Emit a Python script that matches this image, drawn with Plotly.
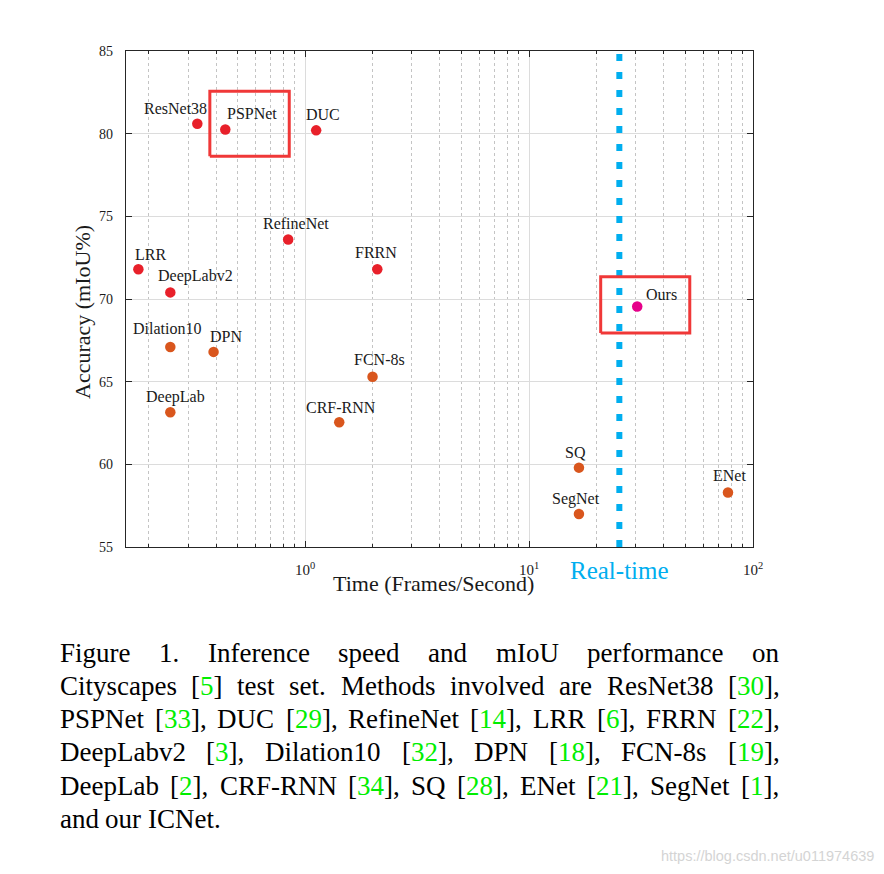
import re
import numpy as np
import plotly.graph_objects as go

# ---------------- data ----------------
methods = ["ResNet38", "PSPNet", "DUC", "RefineNet", "LRR", "FRRN", "DeepLabv2",
           "Dilation10", "DPN", "FCN-8s", "DeepLab", "CRF-RNN", "SQ", "SegNet", "ENet",
           "Ours"]
fps = [0.33, 0.44, 1.12, 0.84, 0.18, 2.1, 0.25,
       0.25, 0.39, 2.0, 0.25, 1.42, 16.7, 16.7, 77.3,
       30.4]
miou = [80.6, 80.25, 80.2, 73.6, 71.8, 71.8, 70.4,
        67.1, 66.8, 65.3, 63.15, 62.55, 59.8, 57.0, 58.3,
        69.55]
groups = ["high"] * 7 + ["mid"] * 8 + ["ours"]
highlighted = ["PSPNet", "Ours"]
realtime_fps = 25.3
x_tick_vals = [1, 10, 100]
x_tick_text = ["10<sup>0</sup>", "10<sup>1</sup>", "10<sup>2</sup>"]
y_tick_vals = [55, 60, 65, 70, 75, 80, 85]

caption_lines = [
    "Figure 1. Inference speed and mIoU performance on",
    "Cityscapes [5] test set. Methods involved are ResNet38 [30],",
    "PSPNet [33], DUC [29], RefineNet [14], LRR [6], FRRN [22],",
    "DeepLabv2 [3], Dilation10 [32], DPN [18], FCN-8s [19],",
    "DeepLab [2], CRF-RNN [34], SQ [28], ENet [21], SegNet [1],",
    "and our ICNet.",
]
watermark = "https://blog.csdn.net/u011974639"

# ---------------- styles ----------------
group_colors = {"high": "#e8202a", "mid": "#d9561d", "ours": "#e6008a"}
label_offsets = {  # (dx, dy) in px
    "ResNet38": (-22, 15), "PSPNet": (27, 16), "DUC": (7, 16), "RefineNet": (8, 16),
    "LRR": (12, 15), "FRRN": (-1, 17), "DeepLabv2": (25, 16), "Dilation10": (-3, 18),
    "DPN": (12, 15), "FCN-8s": (7, 17), "DeepLab": (5, 15), "CRF-RNN": (2, 15),
    "SQ": (-3, 15), "SegNet": (-3, 15), "ENet": (2, 17), "Ours": (24, 12),
}
box_pad = {"PSPNet": (0.853, 1.93, 1.62, 2.31), "Ours": (0.687, 1.717, 1.6, 1.8)}
SERIF = "Liberation Serif, Times New Roman, serif"
TXT = "#1a1a1a"

OFF = 8  # page body margin
W, H = 884 - OFF, 874 - OFF
# plot area in reference-picture pixels
L0, R0, T0, B0 = 126, 753, 51, 547
L, R, T, B = L0 - OFF, R0 - OFF, T0 - OFF, B0 - OFF


def px_x(p):
    return (p - L0) / (R0 - L0)


def px_y(p):
    return (B0 - p) / (B0 - T0)


fig = go.Figure()

# real-time line
fig.add_trace(go.Scatter(
    x=[realtime_fps, realtime_fps], y=[y_tick_vals[0], y_tick_vals[-1]], mode="lines",
    line=dict(color="#00aeef", width=6, dash="7px,11px"), hoverinfo="skip",
    showlegend=False))

# highlight boxes
for name in highlighted:
    i = methods.index(name)
    fx0, fx1, dy0, dy1 = box_pad[name]
    x0, x1 = fps[i] * fx0, fps[i] * fx1
    y0, y1 = miou[i] - dy0, miou[i] + dy1
    fig.add_trace(go.Scatter(
        x=[x0, x1, x1, x0, x0], y=[y0, y0, y1, y1, y0], mode="lines",
        line=dict(color="#f03838", width=3), hoverinfo="skip", showlegend=False))

# points
fig.add_trace(go.Scatter(
    x=fps, y=miou, mode="markers",
    marker=dict(size=10.5, color=[group_colors[g] for g in groups], line=dict(width=0)),
    text=methods, showlegend=False))

annotations = []
for m, f, a in zip(methods, fps, miou):
    dx, dy = label_offsets[m]
    annotations.append(dict(
        x=np.log10(f), y=a, xref="x", yref="y", text=m, showarrow=False,
        xshift=dx, yshift=dy, font=dict(family=SERIF, size=16, color=TXT)))

# real-time label
annotations.append(dict(
    x=np.log10(realtime_fps), y=px_y(570), xref="x", yref="paper", text="Real-time",
    showarrow=False, xanchor="center", yanchor="middle",
    font=dict(family=SERIF, size=25, color="#00aeef")))

# axis titles
annotations.append(dict(
    x=px_x(433.5), y=px_y(583), xref="paper", yref="paper", text="Time (Frames/Second)",
    showarrow=False, xanchor="center", yanchor="middle",
    font=dict(family=SERIF, size=22, color=TXT)))
annotations.append(dict(
    x=px_x(83), y=px_y(312), xref="paper", yref="paper", text="Accuracy (mIoU%)",
    showarrow=False, xanchor="center", yanchor="middle", textangle=-90,
    font=dict(family=SERIF, size=22, color=TXT)))

# caption (justified word by word)
AFM = {' ': 250, '[': 333, ']': 333, ',': 250, '.': 250, '-': 333, '%': 833, '/': 278,
       'A': 722, 'B': 667, 'C': 667, 'D': 722, 'E': 611, 'F': 556, 'G': 722, 'H': 722,
       'I': 333, 'J': 389, 'K': 722, 'L': 611, 'M': 889, 'N': 722, 'O': 722, 'P': 556,
       'Q': 722, 'R': 667, 'S': 556, 'T': 611, 'U': 722, 'V': 722, 'W': 944, 'X': 722,
       'Y': 722, 'Z': 611, 'a': 444, 'b': 500, 'c': 444, 'd': 500, 'e': 444, 'f': 333,
       'g': 500, 'h': 500, 'i': 278, 'j': 278, 'k': 500, 'l': 278, 'm': 778, 'n': 500,
       'o': 500, 'p': 500, 'q': 500, 'r': 333, 's': 389, 't': 278, 'u': 500, 'v': 500,
       'w': 722, 'x': 500, 'y': 500, 'z': 444}
CAP_SIZE = 27
CAP_LEFT, CAP_RIGHT = 58.5, 778.5
CAP_Y0, CAP_DY = 652.5, 33.3


def wlen(s):
    return sum(AFM.get(c, 500) for c in s) / 1000.0 * CAP_SIZE


for li, line in enumerate(caption_lines):
    words = line.split()
    widths = [wlen(w) for w in words]
    if li < len(caption_lines) - 1 and len(words) > 1:
        gap = (CAP_RIGHT - CAP_LEFT - sum(widths)) / (len(words) - 1)
    else:
        gap = wlen(' ')
    xcur = CAP_LEFT
    yc = CAP_Y0 + li * CAP_DY
    for w, wd in zip(words, widths):
        rich = re.sub(r'\[(\d+)\]', r'[<span style="color:#00ee00">\1</span>]', w)
        annotations.append(dict(
            x=px_x(xcur - 1), y=px_y(yc), xref="paper", yref="paper", text=rich,
            showarrow=False, xanchor="left", yanchor="middle",
            font=dict(family=SERIF, size=CAP_SIZE, color="#000000")))
        xcur += wd + gap

annotations.append(dict(
    x=px_x(876), y=px_y(856), xref="paper", yref="paper", text=watermark,
    showarrow=False, xanchor="right", yanchor="middle",
    font=dict(family="Liberation Sans, Arial, sans-serif", size=14.5, color="#d4d4d4")))

minor_vals = [d * 10.0 ** e for e in (-1, 0, 1) for d in range(2, 10)]

fig.update_layout(
    width=W, height=H,
    margin=dict(l=L, r=W - R, t=T, b=H - B),
    paper_bgcolor="white", plot_bgcolor="white",
    showlegend=False,
    annotations=annotations,
    xaxis=dict(
        type="log", range=[-0.80, 2.0],
        tickmode="array", tickvals=x_tick_vals, ticktext=x_tick_text,
        ticks="inside", ticklen=6, tickwidth=1, tickcolor="#262626",
        showline=True, linecolor="#262626", linewidth=1.2, mirror="ticks",
        showgrid=True, gridcolor="#dcdcdc", gridwidth=1,
        zeroline=False, ticklabelstandoff=9,
        tickfont=dict(family=SERIF, size=15, color=TXT),
        minor=dict(tickmode="array", tickvals=minor_vals, ticks="inside", ticklen=3,
                   tickcolor="#262626", showgrid=True, gridcolor="#c4c4c4",
                   griddash="3px,3px", gridwidth=1),
    ),
    yaxis=dict(
        range=[55, 85], tickmode="array", tickvals=y_tick_vals,
        ticks="inside", ticklen=6, tickwidth=1, tickcolor="#262626",
        showline=True, linecolor="#262626", linewidth=1.2, mirror="ticks",
        showgrid=True, gridcolor="#dcdcdc", gridwidth=1,
        zeroline=False, ticklabelstandoff=9,
        tickfont=dict(family=SERIF, size=14, color=TXT),
    ),
)

fig.write_html("out.html")
